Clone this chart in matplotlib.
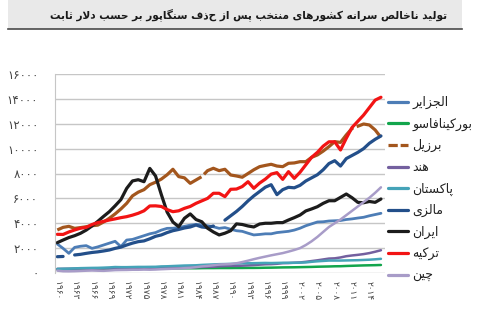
import matplotlib
matplotlib.use("Agg")
import matplotlib.pyplot as plt
from matplotlib.lines import Line2D
from matplotlib.patches import Rectangle
import numpy as np

plt.rcParams["font.family"] = ["DejaVu Sans"]

YEARS = list(range(1960, 2017))

ALGERIA = [2330, 1980, 1580, 2060, 2150, 2200, 1980, 2100, 2250, 2400,
           2550, 2120, 2650, 2700, 2850, 3000, 3150, 3250, 3450, 3590,
           3600, 3650, 3750, 3850, 3900, 3880, 3800, 3720, 3590, 3650,
           3520, 3400, 3350, 3200, 3060, 3100, 3150, 3150, 3250, 3300,
           3350, 3450, 3600, 3800, 3950, 4100, 4120, 4180, 4200, 4220,
           4300, 4350, 4420, 4480, 4600, 4700, 4800]
BURKINA = [300, 305, 310, 310, 315, 320, 320, 325, 325, 330,
           330, 335, 335, 340, 340, 345, 350, 355, 360, 365,
           370, 375, 380, 380, 380, 390, 395, 395, 400, 400,
           400, 405, 405, 410, 410, 415, 425, 430, 440, 450,
           455, 460, 470, 480, 490, 505, 515, 525, 540, 545,
           565, 580, 595, 610, 620, 630, 645]
BRAZIL = [3460, 3670, 3750, 3590, 3650, 3720, 3800, 3850, 4100, 4400,
          4750, 5150, 5600, 6200, 6500, 6700, 7100, 7300, 7550, 7900,
          8340, 7750, 7650, 7210, 7480, 7750, 8230, 8420, 8230, 8340,
          7880, 7800, 7700, 8000, 8300, 8550, 8650, 8740, 8600, 8550,
          8820, 8850, 8950, 8950, 9300, 9490, 9800, 10160, 10560, 10500,
          11100, 11630, 11800, 11980, 11900, 11500, 10900]
INDIA = [330, 335, 340, 350, 365, 345, 340, 360, 365, 380,
         390, 385, 375, 380, 375, 400, 400, 420, 430, 400,
         420, 435, 440, 460, 470, 480, 490, 500, 535, 560,
         575, 570, 590, 610, 635, 670, 700, 710, 740, 790,
         800, 830, 850, 900, 960, 1020, 1090, 1160, 1180, 1250,
         1350, 1410, 1460, 1520, 1600, 1710, 1830]
PAKISTAN = [330, 340, 350, 370, 390, 400, 410, 415, 430, 450,
            480, 470, 470, 480, 490, 490, 495, 500, 530, 540,
            560, 580, 600, 610, 620, 650, 670, 690, 710, 720,
            730, 750, 790, 780, 790, 800, 810, 800, 810, 820,
            820, 820, 830, 850, 900, 940, 970, 1000, 1000, 1000,
            1010, 1020, 1030, 1050, 1070, 1100, 1140]
MALAYSIA = [1310, 1330, np.nan, 1450, 1500, 1580, 1650, 1700, 1770, 1850,
            1980, 2080, 2250, 2400, 2520, 2580, 2750, 2950, 3060, 3250,
            3400, 3500, 3620, 3700, 3860, 3700, 3650, 3780, np.nan, 4250,
            4600, 4950, 5350, 5800, 6200, 6550, 6900, 7100, 6300, 6700,
            6890, 6850, 7050, 7400, 7650, 7900, 8300, 8800, 9030, 8600,
            9200, 9450, 9700, 10000, 10430, 10750, 11020]
IRAN = [2440, 2650, 2850, 3000, 3190, 3450, 3780, 4150, 4550, 4930,
        5400, 5900, 6800, 7400, 7500, 7340, 8410, 7800, 6300, 4900,
        4100, 3720, 4400, 4750, 4300, 4120, 3600, 3300, 3060, 3200,
        3400, 3950, 3900, 3780, 3700, 3940, 4000, 4000, 4050, 4050,
        4260, 4450, 4660, 4990, 5150, 5330, 5600, 5810, 5810, 6080,
        6350, 6050, 5680, 5650, 5750, 5680, 5950]
TURKEY = [3110, 3100, 3300, 3460, 3600, 3670, 3900, 4050, 4150, 4260,
          4350, 4450, 4530, 4650, 4800, 5000, 5390, 5400, 5350, 5100,
          4930, 5000, 5200, 5350, 5600, 5800, 6000, 6410, 6410, 6140,
          6730, 6750, 6950, 7340, 6810, 7230, 7550, 7950, 8070, 7530,
          8150, 7610, 8100, 8700, 9300, 9700, 10200, 10550, 10550, 9890,
          10830, 11700, 12200, 12700, 13300, 13900, 14130]
CHINA = [190, 140, 135, 145, 165, 185, 200, 185, 175, 200,
         230, 240, 245, 260, 260, 275, 265, 280, 305, 325,
         345, 360, 385, 420, 470, 530, 570, 620, 680, 700,
         720, 780, 880, 990, 1110, 1220, 1320, 1420, 1510, 1600,
         1720, 1850, 2000, 2250, 2550, 2900, 3300, 3700, 4000, 4300,
         4650, 5000, 5350, 5700, 6050, 6450, 6890]

NAMES = ["الجزایر", "بورکینافاسو", "برزیل", "هند", "پاکستان",
         "مالزی", "ایران", "ترکیه", "چین"]
SERIES = [ALGERIA, BURKINA, BRAZIL, INDIA, PAKISTAN,
          MALAYSIA, IRAN, TURKEY, CHINA]
COLORS = ["#4d7db6", "#12a54c", "#a3561d", "#74609f", "#45a3b8",
          "#234f8a", "#1c1c1c", "#f21414", "#a89cc8"]
WIDTHS = [2.0, 1.8, 2.3, 1.8, 1.8, 2.3, 2.3, 2.3, 1.8]

TITLE = "تولید ناخالص سرانه کشورهای منتخب پس از حذف سنگاپور بر حسب دلار ثابت"
YTICKS = list(range(0, 16001, 2000))
XTICKS = list(range(1960, 2015, 3))

# contextual glyphs: (isolated, final, initial, medial); two entries = joins on the right only
FORMS = {
    "ا": (0xFE8D, 0xFE8E), "ب": (0xFE8F, 0xFE90, 0xFE91, 0xFE92),
    "ت": (0xFE95, 0xFE96, 0xFE97, 0xFE98), "ث": (0xFE99, 0xFE9A, 0xFE9B, 0xFE9C),
    "ج": (0xFE9D, 0xFE9E, 0xFE9F, 0xFEA0), "ح": (0xFEA1, 0xFEA2, 0xFEA3, 0xFEA4),
    "خ": (0xFEA5, 0xFEA6, 0xFEA7, 0xFEA8), "د": (0xFEA9, 0xFEAA),
    "ر": (0xFEAD, 0xFEAE), "ز": (0xFEAF, 0xFEB0),
    "س": (0xFEB1, 0xFEB2, 0xFEB3, 0xFEB4), "ش": (0xFEB5, 0xFEB6, 0xFEB7, 0xFEB8),
    "ص": (0xFEB9, 0xFEBA, 0xFEBB, 0xFEBC), "ف": (0xFED1, 0xFED2, 0xFED3, 0xFED4),
    "ل": (0xFEDD, 0xFEDE, 0xFEDF, 0xFEE0), "م": (0xFEE1, 0xFEE2, 0xFEE3, 0xFEE4),
    "ن": (0xFEE5, 0xFEE6, 0xFEE7, 0xFEE8), "ه": (0xFEE9, 0xFEEA, 0xFEEB, 0xFEEC),
    "و": (0xFEED, 0xFEEE), "پ": (0xFB56, 0xFB57, 0xFB58, 0xFB59),
    "چ": (0xFB7A, 0xFB7B, 0xFB7C, 0xFB7D), "ک": (0xFB8E, 0xFB8F, 0xFB90, 0xFB91),
    "گ": (0xFB92, 0xFB93, 0xFB94, 0xFB95), "ی": (0xFBFC, 0xFBFD, 0xFBFE, 0xFBFF),
    "لا": (0xFEFB, 0xFEFC),
}
FA_DIGITS = str.maketrans("0123456789", "۰۱۲۳۴۵۶۷۸۹")


def shape(text):
    """Join Persian letters into their presentation forms, in visual order."""
    tokens = []
    i = 0
    while i < len(text):
        if text[i:i + 2] == "لا":
            tokens.append("لا")
            i += 2
        else:
            tokens.append(text[i])
            i += 1
    out = []
    for k, t in enumerate(tokens):
        f = FORMS.get(t)
        if f is None:
            out.append(t)
            continue
        prev = tokens[k - 1] if k > 0 else None
        nxt = tokens[k + 1] if k + 1 < len(tokens) else None
        jp = prev in FORMS and len(FORMS[prev]) == 4
        jn = len(f) == 4 and nxt in FORMS
        if jp and jn:
            out.append(chr(f[3]))
        elif jp:
            out.append(chr(f[1]))
        elif jn:
            out.append(chr(f[2]))
        else:
            out.append(chr(f[0]))
    return "".join(reversed(out))


def fa(n):
    return str(n).translate(FA_DIGITS)


fig = plt.figure(figsize=(4.8, 3.34), dpi=100)

# title band
fig.patches.append(Rectangle((8 / 480, 1 - 29 / 334), 454 / 480, 29 / 334,
                             transform=fig.transFigure, facecolor="#e9e9e9",
                             edgecolor="none"))
fig.lines.append(Line2D([8 / 480, 462 / 480], [1 - 29 / 334] * 2,
                        transform=fig.transFigure, color="#4a4a4a", lw=1.2))
fig.text(447 / 480, 1 - 15 / 334, shape(TITLE), ha="right", va="center",
         fontsize=7.6, fontweight="bold", color="#1a1a1a")

ax = fig.add_axes([55 / 480, 1 - 273 / 334, 330 / 480, 199 / 334])
for name, vals, col, lw in zip(NAMES, SERIES, COLORS, WIDTHS):
    if vals is BRAZIL:
        ax.plot(YEARS, vals, color=col, lw=lw, dashes=(54, 1.1),
                dash_capstyle="butt", dash_joinstyle="round")
    else:
        ax.plot(YEARS, vals, color=col, lw=lw, solid_capstyle="round",
                solid_joinstyle="round")

ax.set_xlim(1959.6, 2016.7)
ax.set_ylim(0, 16000)
ax.set_yticks(YTICKS)
ax.set_yticklabels([fa(v) for v in YTICKS], fontsize=8.5, color="#444444")
ax.set_xticks(XTICKS)
ax.set_xticklabels([fa(v) for v in XTICKS], rotation=-90, fontsize=6.5,
                   color="#444444", va="top", ha="center")
ax.tick_params(length=0)
ax.tick_params(axis="y", pad=12)
ax.tick_params(axis="x", pad=6)
ax.grid(axis="y", color="#c6c6c6", lw=1)
ax.set_axisbelow(True)
for side in ("top", "right", "bottom"):
    ax.spines[side].set_visible(False)
ax.spines["left"].set_color("#c6c6c6")

handles = []
for vals, col, lw in zip(SERIES, COLORS, WIDTHS):
    if vals is BRAZIL:
        handles.append(Line2D([], [], color=col, lw=2.3, dashes=(2.9, 0.9)))
    else:
        handles.append(Line2D([], [], color=col, lw=2.3, solid_capstyle="round"))
fig.legend(handles, [shape(n) for n in NAMES], loc="upper left",
           bbox_to_anchor=(388 / 480, 1 - 96 / 334), frameon=False,
           fontsize=9, handlelength=1.6, handletextpad=0.35,
           labelspacing=0.68, borderaxespad=0, borderpad=0)
for t in fig.legends[0].get_texts():
    t.set_color("#222222")

fig.savefig("out.png", dpi=100)
